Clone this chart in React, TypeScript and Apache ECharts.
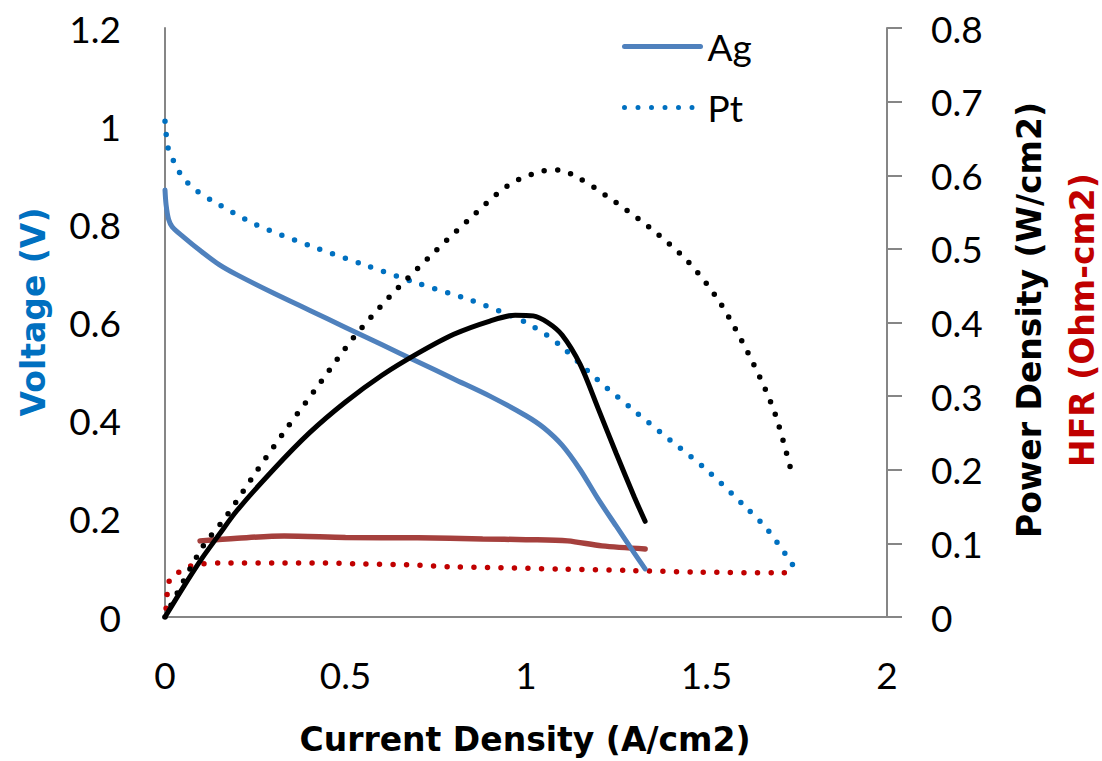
import React, { useEffect, useRef } from "react";
import * as echarts from "echarts";

// ---- Data ----
const agCurrent = [0, 0.003, 0.01, 0.02, 0.05, 0.1, 0.15, 0.2, 0.3, 0.4, 0.5, 0.6, 0.7, 0.8, 0.9, 1.0, 1.05, 1.1, 1.15, 1.2, 1.25, 1.3, 1.33];
const agVoltage = [0.87, 0.84, 0.81, 0.795, 0.775, 0.745, 0.718, 0.697, 0.66, 0.625, 0.59, 0.555, 0.52, 0.485, 0.45, 0.41, 0.385, 0.35, 0.3, 0.24, 0.185, 0.13, 0.098];

const ptCurrent = [0, 0.003, 0.008, 0.022, 0.04, 0.062, 0.09, 0.15, 0.25, 0.4, 0.55, 0.7, 0.85, 0.93, 1.0, 1.06, 1.1, 1.2, 1.3, 1.4, 1.5, 1.6, 1.67, 1.74];
const ptVoltage = [1.01, 0.985, 0.957, 0.932, 0.906, 0.885, 0.867, 0.84, 0.8, 0.757, 0.718, 0.68, 0.645, 0.622, 0.6, 0.573, 0.55, 0.482, 0.42, 0.36, 0.3, 0.23, 0.177, 0.105];

const agPowerCurrent = [0, 0.05, 0.1, 0.15, 0.2, 0.3, 0.4, 0.5, 0.6, 0.7, 0.8, 0.9, 0.97, 1.02, 1.06, 1.1, 1.15, 1.2, 1.25, 1.3, 1.33];
const agPower = [0, 0.04, 0.078, 0.112, 0.145, 0.2, 0.25, 0.292, 0.328, 0.358, 0.384, 0.402, 0.41, 0.409, 0.4, 0.383, 0.343, 0.283, 0.222, 0.163, 0.13];

const ptPowerCurrent = [0, 0.1, 0.17, 0.255, 0.34, 0.43, 0.52, 0.62, 0.73, 0.84, 0.95, 1.05, 1.09, 1.15, 1.22, 1.34, 1.45, 1.54, 1.63, 1.69, 1.74];
const ptPower = [0, 0.092, 0.137, 0.199, 0.258, 0.318, 0.378, 0.434, 0.488, 0.539, 0.586, 0.606, 0.607, 0.595, 0.573, 0.53, 0.482, 0.425, 0.344, 0.276, 0.188];

const agHfrCurrent = [0.097, 0.2, 0.33, 0.5, 0.7, 0.88, 1.0, 1.115, 1.21, 1.33];
const agHfr = [0.1034, 0.107, 0.11, 0.108, 0.1075, 0.106, 0.105, 0.1034, 0.0966, 0.0925];

const ptHfrCurrent = [0.003, 0.006, 0.012, 0.036, 0.064, 0.1, 0.18, 0.3, 0.44, 0.55, 0.67, 0.8, 0.93, 1.1, 1.3, 1.48, 1.71, 1.74];
const ptHfr = [0.012, 0.031, 0.049, 0.06, 0.068, 0.072, 0.0735, 0.0735, 0.0735, 0.072, 0.071, 0.068, 0.067, 0.065, 0.063, 0.061, 0.06, 0.061];

const xTicks = { min: 0, max: 2, interval: 0.5 };
const voltageTicks = { min: 0, max: 1.2, interval: 0.2 };
const powerTicks = { min: 0, max: 0.8, interval: 0.1 };

const legendNames = ["Ag", "Pt"];

const zip = (xs: number[], ys: number[]) => xs.map((x, i) => [x, ys[i]]);

const FONT = "Lato, 'Open Sans', sans-serif";
const TITLE_FONT = "'DejaVu Sans', Lato, sans-serif";
const AXIS_GRAY = "#868686";
const DOTS = [0, 13.5];

export default function App() {
  const ref = useRef<HTMLDivElement>(null);

  useEffect(() => {
    if (!ref.current) return;
    const chart = echarts.init(ref.current, undefined, { renderer: "svg" });
    const base = { type: "line", showSymbol: false, symbol: "none", smooth: 0.3 };
    chart.setOption({
      animation: false,
      backgroundColor: "#ffffff",
      textStyle: { fontFamily: FONT },
      grid: { left: 165, right: 215, top: 28, bottom: 144, containLabel: false },
      legend: {
        orient: "vertical",
        left: 622,
        top: 28,
        padding: 0,
        itemWidth: 76,
        itemHeight: 40,
        itemGap: 24,
        data: legendNames,
        itemStyle: { opacity: 0 },
        lineStyle: { width: 5, cap: "round" },
        textStyle: { fontSize: 37, color: "#000", fontFamily: FONT, padding: [0, 0, 0, 2] },
      },
      xAxis: {
        type: "value",
        min: xTicks.min,
        max: xTicks.max,
        interval: xTicks.interval,
        splitLine: { show: false },
        axisLine: { show: true, lineStyle: { color: AXIS_GRAY, width: 2 } },
        axisTick: { show: false },
        axisLabel: { fontSize: 37, color: "#000", margin: 39, fontFamily: FONT },
      },
      yAxis: [
        {
          type: "value",
          position: "left",
          min: voltageTicks.min,
          max: voltageTicks.max,
          interval: voltageTicks.interval,
          splitLine: { show: false },
          axisLine: { show: true, lineStyle: { color: AXIS_GRAY, width: 2 } },
          axisTick: { show: false },
          axisLabel: { fontSize: 37, color: "#000", margin: 44, fontFamily: FONT },
        },
        {
          type: "value",
          position: "right",
          min: powerTicks.min,
          max: powerTicks.max,
          interval: powerTicks.interval,
          splitLine: { show: false },
          axisLine: { show: true, lineStyle: { color: AXIS_GRAY, width: 2 } },
          axisTick: { show: true, inside: false, length: 15, lineStyle: { color: AXIS_GRAY, width: 2 } },
          axisLabel: {
            fontSize: 37,
            color: "#000",
            margin: 44,
            fontFamily: FONT,
            formatter: (v: number) => String(Math.round(v * 10) / 10),
          },
        },
      ],
      series: [
        {
          ...base,
          name: "HFR Ag",
          yAxisIndex: 1,
          data: zip(agHfrCurrent, agHfr),
          lineStyle: { color: "#A5403D", width: 5.5, cap: "round" },
        },
        {
          ...base,
          name: "HFR Pt",
          yAxisIndex: 1,
          data: zip(ptHfrCurrent, ptHfr),
          lineStyle: { color: "#C00000", width: 5.5, type: DOTS, cap: "round" },
        },
        {
          ...base,
          name: "Ag",
          yAxisIndex: 0,
          data: zip(agCurrent, agVoltage),
          itemStyle: { color: "#4F81BD" },
          lineStyle: { color: "#4F81BD", width: 5, cap: "round" },
        },
        {
          ...base,
          name: "Pt",
          yAxisIndex: 0,
          data: zip(ptCurrent, ptVoltage),
          itemStyle: { color: "#0070C0" },
          lineStyle: { color: "#0070C0", width: 5.5, type: DOTS, cap: "round" },
        },
        {
          ...base,
          name: "Power Ag",
          yAxisIndex: 1,
          data: zip(agPowerCurrent, agPower),
          lineStyle: { color: "#000000", width: 5, cap: "round" },
        },
        {
          ...base,
          name: "Power Pt",
          yAxisIndex: 1,
          data: zip(ptPowerCurrent, ptPower),
          lineStyle: { color: "#000000", width: 5.5, type: DOTS, cap: "round" },
        },
      ],
      graphic: [
        {
          type: "text",
          x: 525,
          y: 739,
          style: {
            text: "Current Density (A/cm2)",
            font: `bold 33px ${TITLE_FONT}`,
            fill: "#000",
            textAlign: "center",
            textVerticalAlign: "middle",
          },
        },
        {
          type: "text",
          x: 33,
          y: 312,
          rotation: Math.PI / 2,
          style: {
            text: "Voltage (V)",
            font: `bold 33px ${TITLE_FONT}`,
            fill: "#0070C0",
            textAlign: "center",
            textVerticalAlign: "middle",
          },
        },
        {
          type: "text",
          x: 1029,
          y: 320,
          rotation: Math.PI / 2,
          style: {
            text: "Power Density (W/cm2)",
            font: `bold 33px ${TITLE_FONT}`,
            fill: "#000",
            textAlign: "center",
            textVerticalAlign: "middle",
          },
        },
        {
          type: "text",
          x: 1082,
          y: 320,
          rotation: Math.PI / 2,
          style: {
            text: "HFR (Ohm-cm2)",
            font: `bold 33px ${TITLE_FONT}`,
            fill: "#C00000",
            textAlign: "center",
            textVerticalAlign: "middle",
          },
        },
      ],
    });
    return () => chart.dispose();
  }, []);

  return (
    <div
      ref={ref}
      style={{ position: "absolute", left: 0, top: 0, width: 1102, height: 761, background: "#fff" }}
    />
  );
}
